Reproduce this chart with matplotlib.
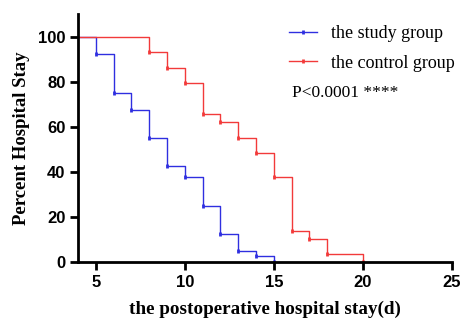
import matplotlib
matplotlib.use("Agg")
import matplotlib.pyplot as plt

# Kaplan-Meier style step data (days, percent still in hospital)
study_days = [0, 5, 6, 7, 8, 9, 10, 11, 12, 13, 14, 15]
study_pct = [100, 92.5, 75, 67.5, 55, 42.5, 37.5, 25, 12.5, 5, 2.5, 0]

control_days = [0, 8, 9, 10, 11, 12, 13, 14, 15, 16, 17, 18, 20]
control_pct = [100, 93.1, 86.2, 79.3, 65.5, 62.1, 55.2, 48.3, 37.9, 13.8, 10.3, 3.4, 0]

x_ticks = [5, 10, 15, 20, 25]
y_ticks = [0, 20, 40, 60, 80, 100]

BLUE = "#2f2fe0"
RED = "#f23a3a"
W, H = 463, 328

fig = plt.figure(figsize=(W / 100, H / 100), dpi=100)
ax = fig.add_axes([0.1685, 0.2012, 0.8075, 0.7558])

for days, pct, col, lab in [
    (study_days, study_pct, BLUE, "the study group"),
    (control_days, control_pct, RED, "the control group"),
]:
    ax.step(days, pct, where="post", color=col, lw=1.0)
    # small tick marks at every drop
    ax.plot(days[1:], pct[1:], ls="none", marker="|", ms=3, mew=2, color=col)
    # legend proxy
    ax.plot([], [], color=col, lw=1.0, marker="|", ms=3, mew=2, label=lab)

ax.set_xlim(4, 25)
ax.set_ylim(0, 110)
ax.set_xticks(x_ticks)
ax.set_yticks(y_ticks)

for s in ["top", "right"]:
    ax.spines[s].set_visible(False)
for s in ["left", "bottom"]:
    ax.spines[s].set_linewidth(2)
ax.tick_params(direction="out", length=6, width=2, pad=3)
for lbl in ax.get_xticklabels() + ax.get_yticklabels():
    lbl.set_fontfamily("Liberation Sans")
    lbl.set_fontweight("bold")
    lbl.set_fontsize(12)

ax.set_xlabel("the postoperative hospital stay(d)", fontfamily="Liberation Serif",
              fontweight="bold", fontsize=13.8, labelpad=8)
ax.set_ylabel("Percent Hospital Stay", fontfamily="Liberation Serif",
              fontweight="bold", fontsize=13.5, labelpad=6)

leg = ax.legend(loc="upper left", bbox_to_anchor=(289 / W, 1 - 25 / H),
                bbox_transform=fig.transFigure, frameon=False,
                prop={"family": "Liberation Serif", "size": 13},
                handlelength=1.55, handletextpad=0.78, labelspacing=0.7,
                borderpad=0, borderaxespad=0)
fig.text(292 / W, 1 - 93 / H, "P<0.0001 ****", fontfamily="Liberation Serif",
         fontsize=12.5, va="center", ha="left")

fig.savefig("out.png", dpi=100)
